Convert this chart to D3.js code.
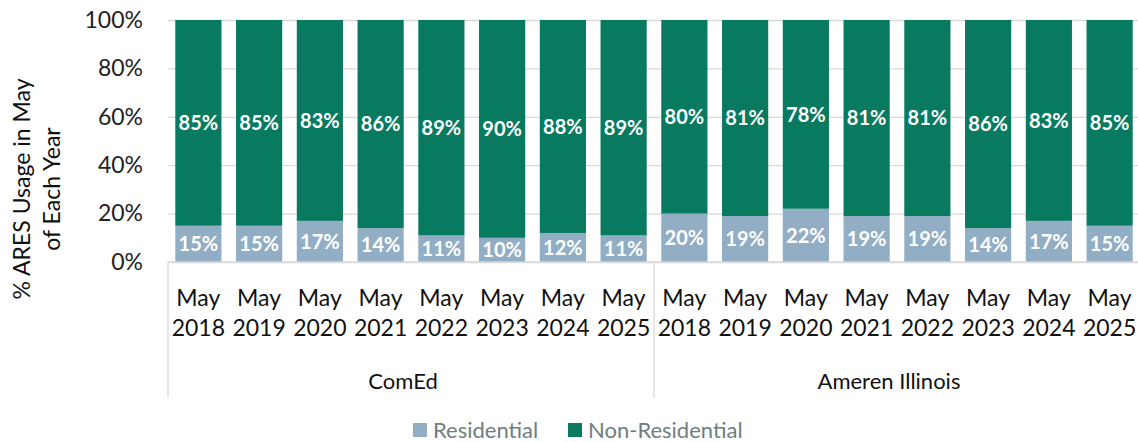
<!DOCTYPE html>
<html>
<head>
<meta charset="utf-8">
<script src="https://cdn.jsdelivr.net/npm/d3@7"></script>
<style>
  body { margin: 0; background: #fff; }
  text { font-family: Lato, "Open Sans", sans-serif; }
</style>
</head>
<body>
<div id="chart"></div>
<script>
// data
const groups = ["ComEd", "Ameren Illinois"];
const years = ["2018", "2019", "2020", "2021", "2022", "2023", "2024", "2025"];
const residential = [15, 15, 17, 14, 11, 10, 12, 11, 20, 19, 22, 19, 19, 14, 17, 15];
const nonResidential = [85, 85, 83, 86, 89, 90, 88, 89, 80, 81, 78, 81, 81, 86, 83, 85];
const seriesNames = ["Residential", "Non-Residential"];
const yTicks = [0, 20, 40, 60, 80, 100];

const width = 1138;
const height = 442;
const margin = { top: 20, bottom: 180, left: 168, right: -2 };

const colors = { "Residential": "#92aec4", "Non-Residential": "#077a5f" };
const gridColor = "#d9d9d9";

const rows = [];
groups.forEach((g, gi) => {
    years.forEach((yr, yi) => {
        const i = gi * years.length + yi;
        rows.push({ key: g + " " + yr, group: g, year: yr, res: residential[i], non: nonResidential[i] });
    });
});

const svg = d3.select("div#chart").append("svg")
    .attr("width", width)
    .attr("height", height);

const x = d3.scaleBand()
    .domain(rows.map((d) => d.key))
    .range([margin.left, width - margin.right])
    .paddingInner(0.24)
    .paddingOuter(0.12);

const y = d3.scaleLinear()
    .domain([0, 100])
    .range([height - margin.bottom, margin.top]);

// grid
const yAxis = d3.axisLeft(y).tickValues(yTicks).tickFormat((d) => d + "%").tickSize(-(x.range()[1] - x.range()[0])).tickPadding(25);
const yAxisGroup = svg.append("g")
    .attr("transform", `translate(${margin.left},0)`)
    .call(yAxis);
yAxisGroup.select(".domain").remove();
yAxisGroup.selectAll(".tick line").attr("stroke", gridColor).attr("stroke-width", 1.3);
yAxisGroup.selectAll(".tick text")
    .attr("fill", "#222")
    .style("font-size", "23px");

// stacked bars
const stack = d3.stack().keys(["res", "non"]);
const stacked = stack(rows);

svg.append("g").selectAll("g")
    .data(stacked)
    .join("g")
    .attr("fill", (s, i) => colors[seriesNames[i]])
    .selectAll("rect")
    .data((s) => s)
    .join("rect")
    .attr("x", (d) => x(d.data.key))
    .attr("y", (d) => y(d[1]))
    .attr("width", x.bandwidth())
    .attr("height", (d) => y(d[0]) - y(d[1]));

// value labels
svg.append("g").selectAll("g")
    .data(stacked)
    .join("g")
    .selectAll("text")
    .data((s) => s)
    .join("text")
    .attr("x", (d) => x(d.data.key) + x.bandwidth() / 2)
    .attr("y", (d) => y((d[0] + d[1]) / 2))
    .attr("dy", "0.36em")
    .attr("text-anchor", "middle")
    .attr("fill", "#fff")
    .style("font-size", "20px")
    .style("font-weight", "bold")
    .text((d) => (d[1] - d[0]) + "%");

// x axis: baseline, separators, labels
const axisY = y(0);
const x0 = x.range()[0];
const x1 = x.range()[1];
const sepBottom = axisY + 136;
const xg = svg.append("g");
xg.append("line")
    .attr("x1", x0).attr("x2", x1)
    .attr("y1", axisY).attr("y2", axisY)
    .attr("stroke", gridColor).attr("stroke-width", 1.3);

const groupEdges = [x0, x(rows[years.length].key) - x.step() * x.paddingInner() / 2, x1];
xg.selectAll("line.sep")
    .data(groupEdges)
    .join("line")
    .attr("class", "sep")
    .attr("x1", (d) => d).attr("x2", (d) => d)
    .attr("y1", axisY).attr("y2", sepBottom)
    .attr("stroke", gridColor).attr("stroke-width", 1.3);

const cat = xg.selectAll("text.cat")
    .data(rows)
    .join("text")
    .attr("class", "cat")
    .attr("text-anchor", "middle")
    .attr("fill", "#111")
    .style("font-size", "23px");
cat.append("tspan")
    .attr("x", (d) => x(d.key) + x.bandwidth() / 2)
    .attr("y", axisY + 44)
    .text("May");
cat.append("tspan")
    .attr("x", (d) => x(d.key) + x.bandwidth() / 2)
    .attr("y", axisY + 74)
    .text((d) => d.year);

xg.selectAll("text.grp")
    .data(groups)
    .join("text")
    .attr("class", "grp")
    .attr("text-anchor", "middle")
    .attr("x", (d, i) => (groupEdges[i] + groupEdges[i + 1]) / 2 - 8)
    .attr("y", axisY + 127)
    .attr("fill", "#111")
    .style("font-size", "22px")
    .text((d) => d);

// y title
const yTitle = svg.append("text")
    .attr("transform", `translate(30,${(margin.top + axisY) / 2 + 48}) rotate(-90)`)
    .attr("text-anchor", "middle")
    .attr("fill", "#111")
    .style("font-size", "23px");
yTitle.append("tspan").attr("x", 0).attr("y", 0).text("% ARES Usage in May");
yTitle.append("tspan").attr("x", 0).attr("y", 30).text("of Each Year");

// legend
const legend = svg.append("g").attr("transform", `translate(413,${height - 12})`);
const legendX = [0, 155];
const items = legend.selectAll("g")
    .data(seriesNames)
    .join("g")
    .attr("transform", (d, i) => `translate(${legendX[i]},0)`);
items.append("rect")
    .attr("x", 0).attr("y", -7)
    .attr("width", 14).attr("height", 14)
    .attr("fill", (d) => colors[d]);
items.append("text")
    .attr("x", 20).attr("y", 0)
    .attr("dy", "0.35em")
    .attr("fill", "#6f7e7e")
    .style("font-size", "22px")
    .text((d) => d);
</script>
</body>
</html>
